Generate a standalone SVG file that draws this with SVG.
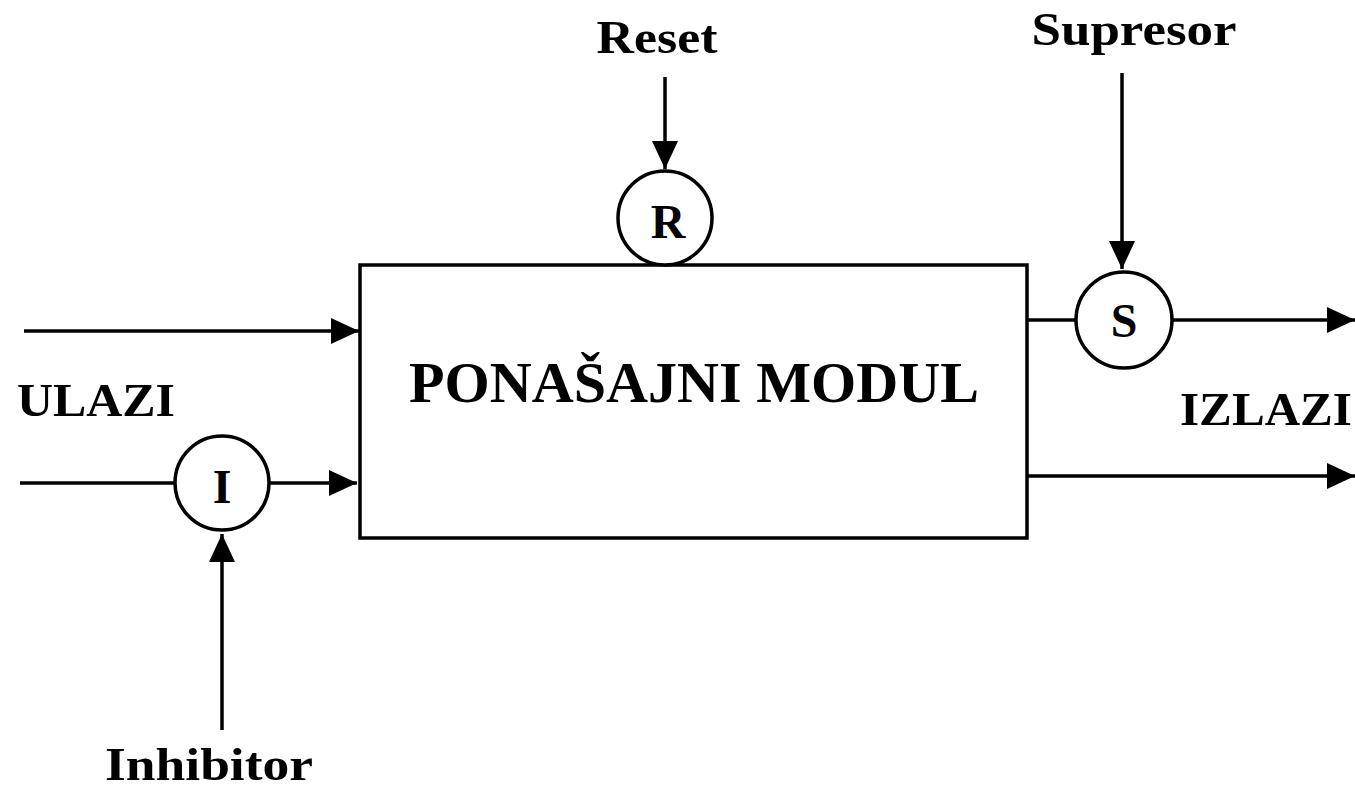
<svg xmlns="http://www.w3.org/2000/svg" width="1355" height="791" viewBox="0 0 1355 791">
<style>
text{font-family:"Liberation Serif","Times New Roman",serif;font-weight:bold;fill:#000}
.lbl{font-size:47px}
.c{font-size:48px;text-anchor:middle}
.ln{stroke:#000;stroke-width:3.5;fill:none}
.nd{stroke:#000;stroke-width:3.5;fill:#fff}
</style>
<defs>
<marker id="a" viewBox="0 0 28 26" refX="28" refY="13" markerWidth="28" markerHeight="26" markerUnits="userSpaceOnUse" orient="auto">
<path d="M0,0 L28,13 L0,26 z" fill="#000"/>
</marker>
</defs>
<g id="connectors">
<line class="ln" x1="665" y1="77" x2="665" y2="169" marker-end="url(#a)"/>
<line class="ln" x1="1122" y1="73" x2="1122" y2="269" marker-end="url(#a)"/>
<line class="ln" x1="1027" y1="320" x2="1075" y2="320"/>
<line class="ln" x1="1173" y1="320" x2="1355" y2="320" marker-end="url(#a)"/>
<line class="ln" x1="1027" y1="476" x2="1355" y2="476" marker-end="url(#a)"/>
<line class="ln" x1="24" y1="331" x2="359" y2="331" marker-end="url(#a)"/>
<line class="ln" x1="20" y1="483" x2="175" y2="483"/>
<line class="ln" x1="269" y1="483" x2="357" y2="483" marker-end="url(#a)"/>
<line class="ln" x1="222" y1="730" x2="222" y2="534" marker-end="url(#a)"/>
</g>
<g id="module">
<rect class="nd" x="360" y="265" width="667" height="273"/>
<text x="694" y="402" font-size="57" text-anchor="middle" textLength="570" lengthAdjust="spacingAndGlyphs">PONAŠAJNI MODUL</text>
</g>
<g id="node-R">
<circle class="nd" cx="665" cy="218" r="47"/>
<text class="c" x="668" y="238">R</text>
</g>
<g id="node-S">
<circle class="nd" cx="1124" cy="320" r="48"/>
<text class="c" x="1124" y="337">S</text>
</g>
<g id="node-I">
<circle class="nd" cx="222" cy="483" r="47"/>
<text class="c" x="222" y="503">I</text>
</g>
<g id="labels">
<text class="lbl" x="657" y="53" text-anchor="middle" textLength="121" lengthAdjust="spacingAndGlyphs">Reset</text>
<text class="lbl" x="1134" y="45" text-anchor="middle" textLength="205" lengthAdjust="spacingAndGlyphs">Supresor</text>
<text class="lbl" x="17" y="416" textLength="158" lengthAdjust="spacingAndGlyphs">ULAZI</text>
<text class="lbl" x="1180" y="425" textLength="172" lengthAdjust="spacingAndGlyphs">IZLAZI</text>
<text class="lbl" x="209" y="780" text-anchor="middle" textLength="208" lengthAdjust="spacingAndGlyphs">Inhibitor</text>
</g>
</svg>
